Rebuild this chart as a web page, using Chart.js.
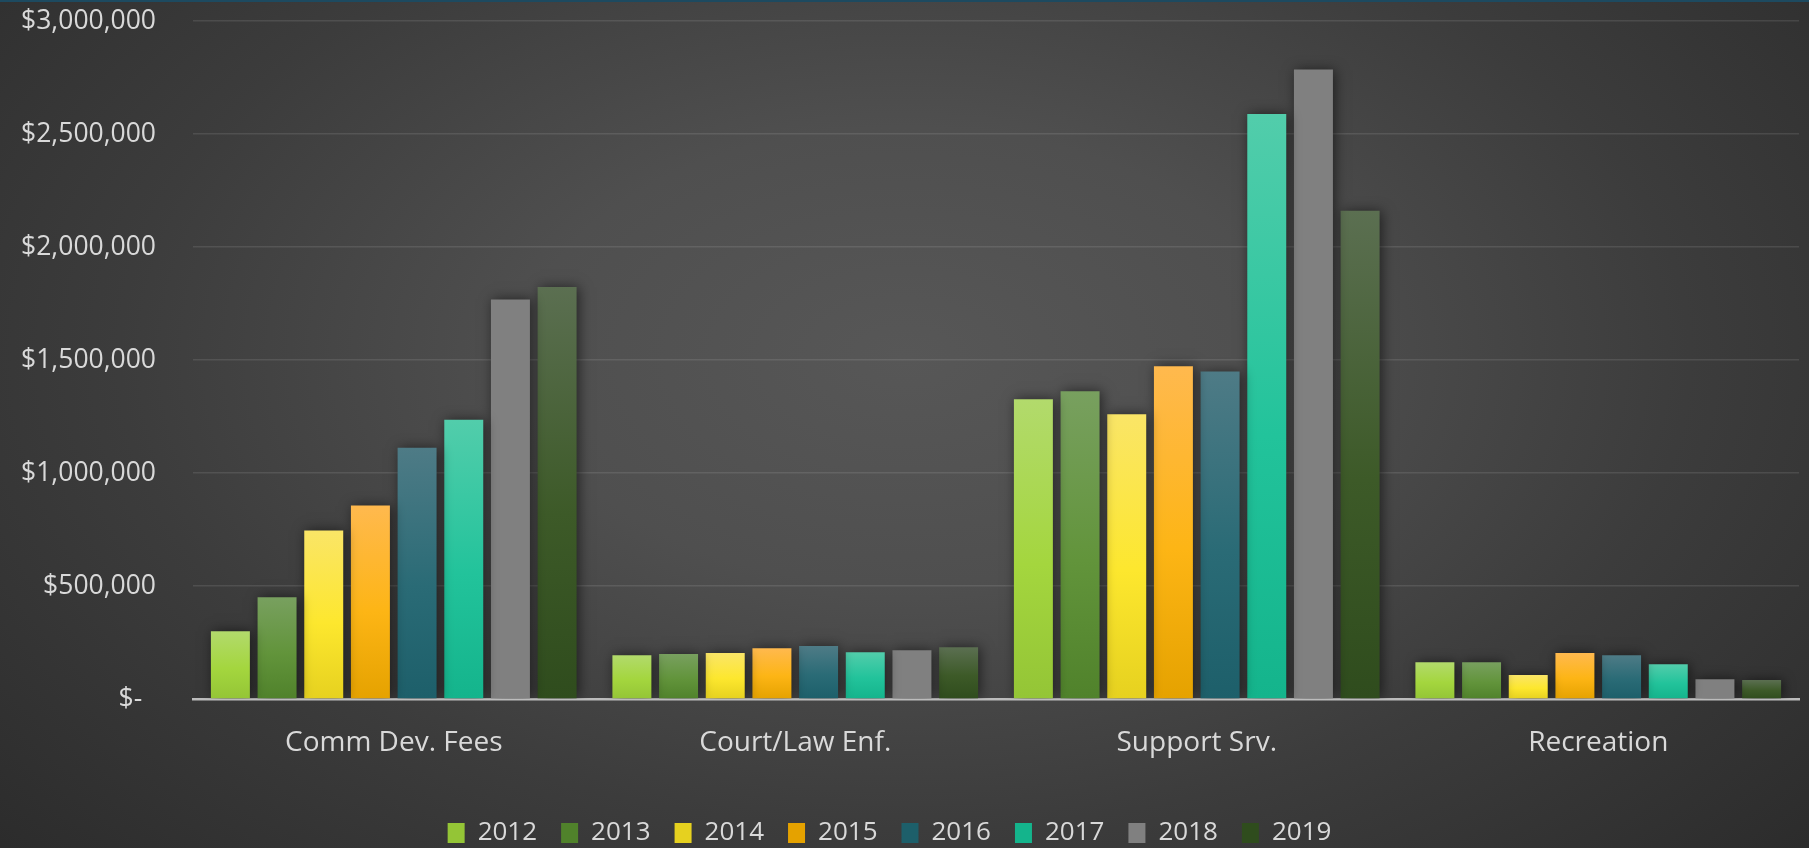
<!DOCTYPE html>
<html>
<head>
<meta charset="utf-8">
<script src="https://cdn.jsdelivr.net/npm/chart.js@4.4.1/dist/chart.umd.min.js"></script>
<style>
  html, body { margin: 0; padding: 0; }
  body {
    width: 1809px;
    height: 848px;
    overflow: hidden;
    background: radial-gradient(ellipse 70% 90% at 50% 42%, #575757 0%, #4f4f4f 30%, #3c3c3c 62%, #2a2a2a 100%);
  }
  #wrap {
    position: relative;
    width: 1809px;
    height: 848px;
    box-sizing: border-box;
    border-top: 2px solid #1d4a60;
  }
</style>
</head>
<body>
<div id="wrap"><canvas id="chart"></canvas></div>
<script>
// categories and years
const categories = ["Comm Dev. Fees", "Court/Law Enf.", "Support Srv.", "Recreation"];
const years = ["2012", "2013", "2014", "2015", "2016", "2017", "2018", "2019"];

// values per year, in category order
const v2012 = [300000, 194000, 1326000, 163000];
const v2013 = [450000, 199000, 1362000, 163000];
const v2014 = [746000, 203000, 1260000, 106000];
const v2015 = [856000, 225000, 1472000, 203000];
const v2016 = [1112000, 234000, 1449000, 194000];
const v2017 = [1236000, 207000, 2589000, 154000];
const v2018 = [1768000, 216000, 2785000, 87000];
const v2019 = [1823000, 229000, 2160000, 84000];
const seriesValues = [v2012, v2013, v2014, v2015, v2016, v2017, v2018, v2019];

// y ticks
const yMax = 3000000;
const yStep = 500000;

// bar colours (top / middle / bottom of the gradient)
const topColors = ["#b2da6c", "#78a05f", "#fae567", "#ffb94e", "#4e7b86", "#52cdab", "#808080", "#5b6f51"];
const midColors = ["#a4d63e", "#62943b", "#fde72e", "#fdb515", "#2a6b76", "#22c39b", "#808080", "#3d5a28"];
const bottomColors = ["#94c536", "#50822b", "#e6d11f", "#e5a200", "#1d5f6a", "#14b48c", "#808080", "#2f4c1d"];

const textColor = "#d9d9d9";
const fontFamily = "'Open Sans', 'Noto Sans', sans-serif";

function barFill(ctx) {
    const i = ctx.datasetIndex;
    if (ctx.type !== "data") {
        return midColors[i];
    }
    const chart = ctx.chart;
    const yScale = chart.scales.y;
    if (!chart.chartArea || !yScale) {
        return midColors[i];
    }
    const top = yScale.getPixelForValue(ctx.raw);
    const base = yScale.getPixelForValue(0);
    if (!isFinite(top) || base - top < 1) {
        return midColors[i];
    }
    const g = chart.ctx.createLinearGradient(0, top, 0, base);
    g.addColorStop(0, topColors[i]);
    g.addColorStop(0.55, midColors[i]);
    g.addColorStop(1, bottomColors[i]);
    return g;
}

// soft dark shadow round the bars
const barShadow = {
    id: "barShadow",
    beforeDatasetsDraw(chart) {
        const c = chart.ctx;
        c.save();
        c.shadowColor = "rgba(0, 0, 0, 0.55)";
        c.shadowBlur = 12;
        c.shadowOffsetX = 2;
        c.shadowOffsetY = 0;
    },
    afterDatasetsDraw(chart) {
        chart.ctx.restore();
    },
};

// the legend sits a little left of the canvas centre
const legendNudge = {
    id: "legendNudge",
    afterLayout(chart) {
        if (chart.legend) {
            chart.legend.left -= 10;
            chart.legend.right -= 10;
        }
    },
};

const datasets = years.map((year, i) => ({
    label: year,
    data: seriesValues[i],
    backgroundColor: barFill,
    borderWidth: 0,
    categoryPercentage: 0.93,
    barPercentage: 0.835,
}));

new Chart(document.getElementById("chart"), {
    type: "bar",
    data: {
        labels: categories,
        datasets: datasets,
    },
    plugins: [barShadow, legendNudge],
    options: {
        responsive: true,
        maintainAspectRatio: false,
        animation: false,
        layout: {
            padding: { top: 19, right: 10, bottom: -8, left: 0 },
        },
        plugins: {
            legend: {
                position: "bottom",
                labels: {
                    color: textColor,
                    font: { family: fontFamily, size: 26 },
                    boxWidth: 17,
                    boxHeight: 20,
                    padding: 24,
                },
            },
            tooltip: { enabled: false },
        },
        scales: {
            x: {
                grid: { display: false },
                border: { display: true, color: "#bcbcbc", width: 2.5 },
                ticks: {
                    color: textColor,
                    font: { family: fontFamily, size: 28 },
                    padding: 19,
                },
                afterFit: (scale) => {
                    scale.height = 97;
                },
            },
            y: {
                min: 0,
                max: yMax,
                grid: {
                    color: "rgba(255, 255, 255, 0.1)",
                    lineWidth: 1.5,
                    drawTicks: true,
                    tickLength: 37,
                    tickColor: "rgba(0, 0, 0, 0)",
                },
                border: { display: false },
                ticks: {
                    stepSize: yStep,
                    color: textColor,
                    font: { family: fontFamily, size: 26.5 },
                    padding: 0,
                    callback: (value) => (value === 0 ? "$-  " : "$" + value.toLocaleString("en-US")),
                },
                afterFit: (scale) => {
                    scale.width = 193;
                },
            },
        },
    },
});
</script>
</body>
</html>
